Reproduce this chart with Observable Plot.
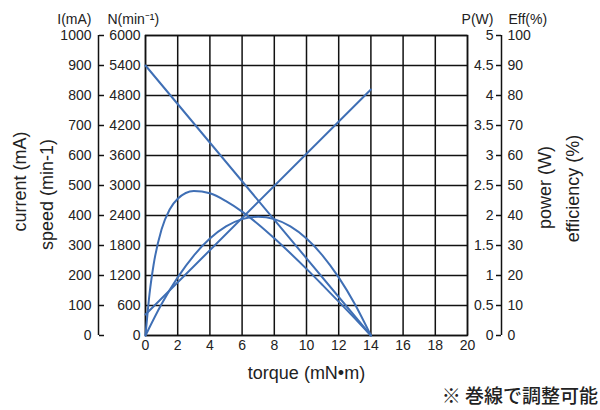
<!DOCTYPE html>
<html><head><meta charset="utf-8">
<script src="https://cdn.jsdelivr.net/npm/d3@7"></script>
<script src="https://cdn.jsdelivr.net/npm/@observablehq/plot@0.6"></script>
<style>
body{margin:0;background:#fff;}
#caption{width:598px;text-align:right;font-family:"Noto Sans CJK JP",sans-serif;font-size:19px;font-weight:500;line-height:24px;color:#222;}
</style></head><body><div id="chart"></div><div id="caption">※ 巻線で調整可能</div>
<script>
// axis ticks
const torqueTicks = [0,2,4,6,8,10,12,14,16,18,20];
const currentTicks = [0,100,200,300,400,500,600,700,800,900,1000];
const currentLabels = ["0","100","200","300","400","500","600","700","800","900","1000"];
const speedTicks = ["0","600","1200","1800","2400","3000","3600","4200","4800","5400","6000"];
const powerTicks = ["0","0.5","1","1.5","2","2.5","3","3.5","4","4.5","5"];
const effTicks = ["0","10","20","30","40","50","60","70","80","90","100"];

// series
const lineTorque = [0, 14];
const speed = [5400, 0];          // min^-1
const current = [70, 820];        // mA
const effTorque = [0,0.25,0.5,1,1.5,2,3,4,5,6,7,8,9,10,11,12,13,14];
const efficiency = [0,13.9,23.5,35.4,42.0,45.6,48.2,47.4,44.8,41.3,37.1,32.4,27.4,22.2,16.8,11.3,5.7,0]; // %
const powerTorque = [0,1,2,3,4,5,6,7,8,9,10,11,12,13,14];
const power = [0,0.525,0.969,1.333,1.616,1.818,1.939,1.979,1.939,1.818,1.616,1.333,0.969,0.525,0]; // W

// map secondary scales onto the current (mA) scale
const speedMax = 6000, powerMax = 5, effMax = 100, currentMax = 1000;
const lab = arr => new Map(currentTicks.map((d,i)=>[d, arr[i]]));
const curLab = lab(currentLabels), speedLab = lab(speedTicks), powerLab = lab(powerTicks), effLab = lab(effTicks);

const speedData = lineTorque.map((t,i)=>({t, v: speed[i]/speedMax*currentMax}));
const currentData = lineTorque.map((t,i)=>({t, v: current[i]}));
const effData = effTorque.map((t,i)=>({t, v: efficiency[i]/effMax*currentMax}));
const powerData = powerTorque.map((t,i)=>({t, v: power[i]/powerMax*currentMax}));

const BLUE = "#3f6fb5", INK = "#222", FONT = "'Liberation Sans', Arial, sans-serif";
const gridOpt = {stroke:"#111", strokeOpacity:1, strokeWidth:1.5};
const lineOpt = {x:"t", y:"v", stroke:BLUE, strokeWidth:2, curve:"monotone-x"};
const tk = {label:null, fill:INK, fontFamily:FONT, fontSize:14};
const unitOpt = {frameAnchor:"top-left", dy:-16, lineAnchor:"middle", fill:INK, fontFamily:FONT, fontSize:14};
const ttl = {fill:INK, fontFamily:FONT, fontSize:18, textAnchor:"middle", lineAnchor:"middle"};

const chart = Plot.plot({
  width:600, height:383,
  marginTop:35, marginBottom:48, marginLeft:145, marginRight:133,
  style:{background:"#fff", color:INK, fontFamily:FONT, fontSize:"14px"},
  x:{domain:[0,20]},
  y:{domain:[0,1000]},
  marks:[
    Plot.gridX(torqueTicks, gridOpt),
    Plot.gridY(currentTicks, gridOpt),
    Plot.frame({stroke:"#111", strokeWidth:1.5}),
    Plot.ruleX([0], {dx:-47, stroke:"#111", strokeWidth:1.5}),
    Plot.ruleX([20], {dx:34, stroke:"#111", strokeWidth:1.5}),
    Plot.axisX(torqueTicks, {...tk, tickSize:0, tickPadding:5}),
    // current
    Plot.axisY(currentTicks, {...tk, anchor:"left", tickSize:0, tickPadding:0, dx:-54, tickFormat:d=>curLab.get(d)}),
    Plot.axisY(currentTicks, {label:null, anchor:"right", tickSize:5, dx:-369, tickFormat:()=>"", stroke:"#111", strokeWidth:1.5}),
    // speed
    Plot.axisY(currentTicks, {...tk, anchor:"left", tickSize:0, tickPadding:5, tickFormat:d=>speedLab.get(d)}),
    // power
    Plot.axisY(currentTicks, {...tk, anchor:"left", tickSize:0, tickPadding:0, dx:348, tickFormat:d=>powerLab.get(d)}),
    Plot.axisY(currentTicks, {label:null, anchor:"left", tickSize:5, dx:356, tickFormat:()=>"", stroke:"#111", strokeWidth:1.5}),
    // efficiency
    Plot.axisY(currentTicks, {...tk, anchor:"right", tickSize:0, tickPadding:0, dx:40, tickFormat:d=>effLab.get(d)}),
    // curves
    Plot.line(speedData, lineOpt),
    Plot.line(currentData, lineOpt),
    Plot.line(effData, lineOpt),
    Plot.line(powerData, lineOpt),
    // unit labels on top
    Plot.text(["I(mA)"], {...unitOpt, dx:-54, textAnchor:"end"}),
    Plot.text(["N(min⁻¹)"], {...unitOpt, dx:-38, textAnchor:"start"}),
    Plot.text(["P(W)"], {...unitOpt, frameAnchor:"top-right", dx:26, textAnchor:"end"}),
    Plot.text(["Eff(%)"], {...unitOpt, frameAnchor:"top-right", dx:41, textAnchor:"start"}),
    // axis titles
    Plot.text(["torque (mN•m)"], {...ttl, frameAnchor:"bottom", dy:38}),
    Plot.text(["current (mA)"], {...ttl, frameAnchor:"left", rotate:-90, dx:-125, dy:-4}),
    Plot.text(["speed (min-1)"], {...ttl, frameAnchor:"left", rotate:-90, dx:-98, dy:9}),
    Plot.text(["power (W)"], {...ttl, frameAnchor:"right", rotate:-90, dx:78, dy:2}),
    Plot.text(["efficiency (%)"], {...ttl, frameAnchor:"right", rotate:-90, dx:106, dy:3})
  ]
});
document.getElementById("chart").appendChild(chart);
</script>
</body></html>
